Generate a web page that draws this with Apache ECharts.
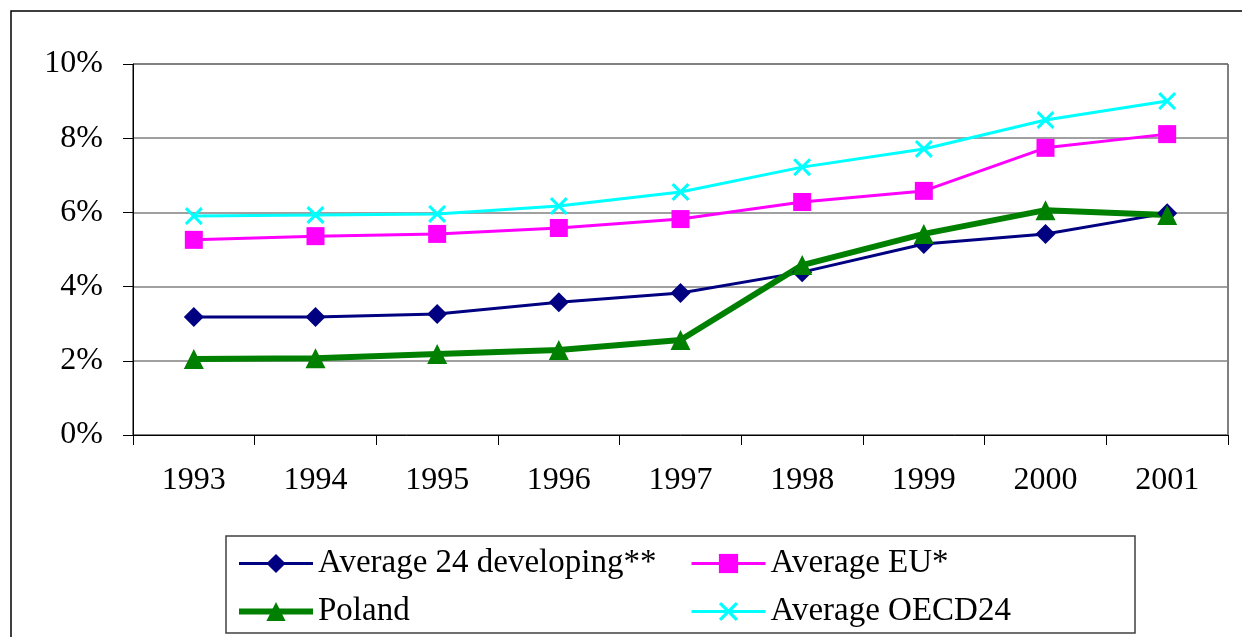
<!DOCTYPE html>
<html>
<head>
<meta charset="utf-8">
<script src="https://cdn.jsdelivr.net/npm/echarts@6/dist/echarts.min.js"></script>
<style>
html,body{margin:0;padding:0;background:#fff;}
#chart{width:1242px;height:637px;}
</style>
</head>
<body>
<div id="chart"></div>
<script>
const years = ['1993','1994','1995','1996','1997','1998','1999','2000','2001'];
const avgDeveloping = [3.18, 3.18, 3.26, 3.58, 3.83, 4.39, 5.15, 5.42, 5.98];
const avgEU = [5.26, 5.36, 5.42, 5.58, 5.82, 6.28, 6.58, 7.74, 8.11];
const poland = [2.05, 2.07, 2.18, 2.29, 2.56, 4.58, 5.42, 6.06, 5.93];
const avgOECD = [5.90, 5.93, 5.96, 6.17, 6.55, 7.22, 7.71, 8.49, 9.00];
const names = ['Average 24 developing**', 'Average EU*', 'Poland', 'Average OECD24'];
const colors = ['#000080', '#FF00FF', '#008000', '#00FFFF'];
const widths = [3, 3, 6, 3];

const FONT = 'Liberation Serif, Times New Roman, serif';
const crossPath = 'path://M0,1.2L1.2,0L5,3.8L8.8,0L10,1.2L6.2,5L10,8.8L8.8,10L5,6.2L1.2,10L0,8.8L3.8,5Z';

const chart = echarts.init(document.getElementById('chart'));
const legendText = {fontFamily: FONT, fontSize: 33, color: '#000', lineHeight: 32};
const legItem = i => ({name: names[i], lineStyle: {width: widths[i], color: colors[i]}, itemStyle: {color: colors[i]}});
chart.setOption({
  animation: false,
  backgroundColor: '#fff',
  grid: {left: 133, top: 64, right: 14, bottom: 202, show: true, borderColor: '#000', borderWidth: 1},
  xAxis: {
    type: 'category', data: years, boundaryGap: true,
    axisLine: {lineStyle: {color: '#000', width: 1}},
    axisTick: {show: true, length: 10, lineStyle: {color: '#000'}},
    axisLabel: {fontFamily: FONT, fontSize: 32, color: '#000', margin: 30},
    splitLine: {show: false}
  },
  yAxis: {
    type: 'value', min: 0, max: 10, interval: 2,
    axisLine: {show: true, lineStyle: {color: '#000', width: 1}},
    axisTick: {show: true, length: 10, lineStyle: {color: '#000'}},
    axisLabel: {fontFamily: FONT, fontSize: 32, color: '#000', margin: 30, formatter: '{value}%'},
    splitLine: {show: true, lineStyle: {color: '#808080', width: 1.5}}
  },
  legend: [
    {data: [legItem(0), legItem(2)], orient: 'vertical', left: 236, top: 547, padding: 0,
     itemWidth: 74, itemHeight: 24, itemGap: 15, textStyle: legendText},
    {data: [legItem(1), legItem(3)], orient: 'vertical', left: 690, top: 547, padding: 0,
     itemWidth: 74, itemHeight: 24, itemGap: 15, textStyle: legendText}
  ],
  graphic: [
    {type: 'rect', shape: {x: 11, y: 11, width: 1400, height: 800}, style: {fill: 'none', stroke: '#000', lineWidth: 1.5}, silent: true},
    {type: 'rect', shape: {x: 226, y: 536, width: 909, height: 97}, style: {fill: 'none', stroke: '#404040', lineWidth: 1.5}, silent: true}
  ],
  series: [
    {name: names[0], type: 'line', data: avgDeveloping, symbol: 'diamond', symbolSize: 20,
     lineStyle: {color: colors[0], width: widths[0]}, itemStyle: {color: colors[0]}},
    {name: names[1], type: 'line', data: avgEU, symbol: 'rect', symbolSize: 18,
     lineStyle: {color: colors[1], width: widths[1]}, itemStyle: {color: colors[1]}},
    {name: names[2], type: 'line', data: poland, symbol: 'triangle', symbolSize: 20,
     lineStyle: {color: colors[2], width: widths[2]}, itemStyle: {color: colors[2]}},
    {name: names[3], type: 'line', data: avgOECD, symbol: crossPath, symbolSize: 18,
     lineStyle: {color: colors[3], width: widths[3]}, itemStyle: {color: colors[3]}}
  ]
});
</script>
</body>
</html>
